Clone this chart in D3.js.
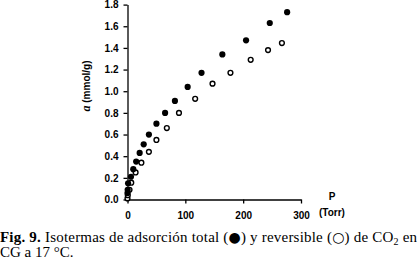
<!DOCTYPE html>
<html>
<head>
<meta charset="utf-8">
<script src="https://cdn.jsdelivr.net/npm/d3@7"></script>
<style>
  body { margin: 0; background: #fff; }
  svg { display: block; }
</style>
</head>
<body>
<div id="chart"></div>
<script>
// Total adsorption (filled) and reversible (open), P in Torr, a in mmol/g
var totalP = [0, 0.3, 1, 6, 10, 15, 21, 28, 37, 50, 65, 82, 104, 128, 164, 205, 246, 276];
var totalA = [0.06, 0.09, 0.15, 0.21, 0.28, 0.35, 0.43, 0.51, 0.60, 0.70, 0.80, 0.91, 1.04, 1.17, 1.34, 1.47, 1.63, 1.73];
var revP = [0, 0.5, 3.5, 6.5, 14, 24, 37, 50, 68, 89, 117, 147, 178, 213, 243, 267];
var revA = [0.01, 0.04, 0.09, 0.155, 0.25, 0.34, 0.44, 0.55, 0.66, 0.80, 0.93, 1.07, 1.17, 1.29, 1.38, 1.445];
var xTicks = [0, 100, 200, 300];
var yTicks = [0, 0.2, 0.4, 0.6, 0.8, 1.0, 1.2, 1.4, 1.6, 1.8];

var width = 420;
var height = 260;

var svg = d3.select('#chart')
  .append('svg')
  .attr('width', width)
  .attr('height', height);

var x = d3.scaleLinear().domain([0, 300]).range([127.5, 301]);
var y = d3.scaleLinear().domain([0, 1.8]).range([199.5, 4.6]);

// Axes
var xAxis = svg.append('g')
  .attr('transform', 'translate(0,' + y(0) + ')')
  .call(d3.axisBottom(x).tickValues(xTicks).tickSize(4).tickSizeOuter(0).tickPadding(8));
var yAxis = svg.append('g')
  .attr('transform', 'translate(' + x(0) + ',0)')
  .call(d3.axisLeft(y).tickValues(yTicks).tickSize(4).tickSizeOuter(0)
    .tickPadding(5).tickFormat(d3.format('.1f')));

[xAxis, yAxis].forEach(function (g) {
  g.selectAll('path, line').attr('stroke', '#000').attr('stroke-width', 1.3);
  g.selectAll('text')
    .attr('fill', '#000')
    .style('font-family', 'Liberation Sans, Arial, sans-serif')
    .style('font-size', '10px')
    .style('font-weight', 'bold');
});

// Axis titles
var sans = 'Liberation Sans, Arial, sans-serif';
svg.append('text')
  .attr('x', 332).attr('y', 200)
  .attr('text-anchor', 'middle')
  .style('font-family', sans).style('font-size', '10px').style('font-weight', 'bold')
  .text('P');
svg.append('text')
  .attr('x', 332).attr('y', 216)
  .attr('text-anchor', 'middle')
  .style('font-family', sans).style('font-size', '10px').style('font-weight', 'bold')
  .text('(Torr)');

var yLabel = svg.append('text')
  .attr('transform', 'translate(90,86) rotate(-90)')
  .attr('text-anchor', 'middle')
  .style('font-family', sans).style('font-size', '10px').style('font-weight', 'bold');
yLabel.append('tspan')
  .style('font-family', 'Liberation Serif, Times New Roman, serif')
  .style('font-style', 'italic')
  .style('font-size', '12px')
  .text('a');
yLabel.append('tspan').text(' (mmol/g)');

// Points
var total = totalP.map(function (p, i) { return { p: p, a: totalA[i] }; });
var rev = revP.map(function (p, i) { return { p: p, a: revA[i] }; });

svg.append('g').selectAll('circle')
  .data(rev)
  .enter()
  .append('circle')
  .attr('cx', function (d) { return x(d.p); })
  .attr('cy', function (d) { return y(d.a); })
  .attr('r', 2.4)
  .attr('fill', '#fff')
  .attr('stroke', '#000')
  .attr('stroke-width', 1.4);

svg.append('g').selectAll('circle')
  .data(total)
  .enter()
  .append('circle')
  .attr('cx', function (d) { return x(d.p); })
  .attr('cy', function (d) { return y(d.a); })
  .attr('r', 3.1)
  .attr('fill', '#000');

// Caption
var serif = 'Liberation Serif, Times New Roman, serif';
var cap1 = svg.append('text')
  .attr('x', 0).attr('y', 241.5)
  .style('font-family', serif).style('font-size', '15px').attr('fill', '#000');
cap1.append('tspan').style('font-weight', 'bold').text('Fig. 9.');
cap1.append('tspan').text(' Isotermas de adsorción total (');
cap1.append('tspan').style('font-size', '14px').style('font-family', 'DejaVu Sans').text('●');
cap1.append('tspan').text(') y reversible (');
cap1.append('tspan').style('font-size', '14px').style('font-family', 'DejaVu Sans').text('○');
cap1.append('tspan').text(') de CO');
cap1.append('tspan').attr('dy', 3).style('font-size', '10px').text('2');
cap1.append('tspan').attr('dy', -3).text(' en');

svg.append('text')
  .attr('x', 0).attr('y', 257)
  .style('font-family', serif).style('font-size', '15px').attr('fill', '#000')
  .text('CG a 17 °C.');

// Stretch caption line to the full width, as in the figure
cap1.attr('textLength', 417).attr('lengthAdjust', 'spacing');
</script>
</body>
</html>
